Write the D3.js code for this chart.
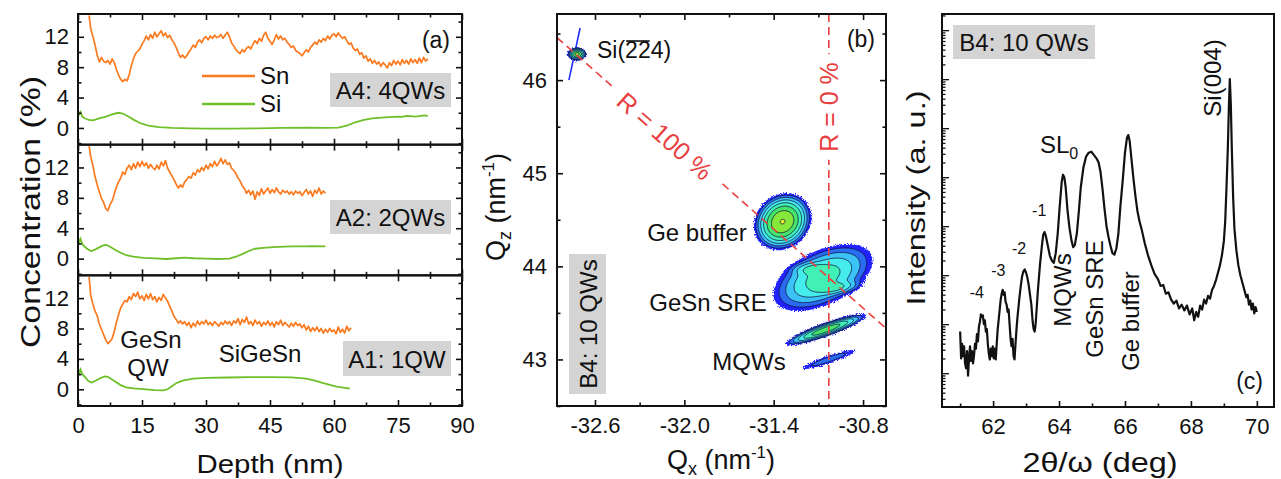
<!DOCTYPE html>
<html><head><meta charset="utf-8">
<script src="https://cdn.jsdelivr.net/npm/d3@7"></script>
<style>body{margin:0;background:#fff;} svg text{font-family:Arial,"Liberation Sans",sans-serif;fill:#111;}</style>
</head><body>
<svg id="chart" width="1281" height="479" xmlns="http://www.w3.org/2000/svg"></svg>
<script>
// ---------------- DATA ----------------
// Panel (a): concentration depth profiles, [depth nm, concentration %]
const depthTicks = [0, 15, 30, 45, 60, 75, 90];
const concTicks = [0, 4, 8, 12];
const sampleNames = ["A4: 4QWs", "A2: 2QWs", "A1: 1QW"];

const snA4 = [[2.6,14.8],[3.0,13.0],[3.5,12.0],[4.0,10.9],[4.5,9.6],[5.0,8.7],[5.5,9.3],[6.0,8.8],[6.5,8.6],[7.0,8.9],[7.5,8.4],[8.0,9.1],[8.5,8.6],[9.0,7.7],[9.5,7.0],[10.0,6.4],[10.5,6.1],[11.0,6.4],[11.5,6.2],[12.0,7.0],[12.5,8.2],[13.0,9.1],[13.5,9.8],[14.0,10.1],[14.5,10.4],[15.0,11.0],[15.5,11.5],[16.0,12.1],[16.5,11.6],[17.0,12.3],[17.5,11.8],[18.0,12.6],[18.5,12.0],[19.0,12.4],[19.5,12.8],[20.0,12.1],[20.5,12.5],[21.0,11.9],[21.5,12.2],[22.0,11.6],[22.5,11.2],[23.0,10.6],[23.5,9.9],[24.0,9.3],[24.5,9.6],[25.0,9.2],[25.5,9.5],[26.0,10.0],[26.5,10.4],[27.0,10.9],[27.5,10.6],[28.0,11.3],[28.5,11.6],[29.0,11.2],[29.5,11.8],[30.0,12.0],[30.5,11.6],[31.0,12.1],[31.5,11.8],[32.0,12.2],[32.5,11.9],[33.0,12.0],[33.5,12.3],[34.0,11.8],[34.5,12.2],[35.0,12.6],[35.5,12.0],[36.0,11.2],[36.5,10.8],[37.0,10.3],[37.5,10.0],[38.0,9.8],[38.5,10.3],[39.0,10.0],[39.5,10.5],[40.0,10.7],[40.5,10.4],[41.0,11.0],[41.5,11.5],[42.0,11.1],[42.5,11.8],[43.0,11.4],[43.5,12.2],[44.0,12.6],[44.5,11.8],[45.0,11.4],[45.5,11.0],[46.0,11.6],[46.5,12.3],[47.0,11.7],[47.5,12.1],[48.0,11.6],[48.5,11.8],[49.0,11.3],[49.5,11.0],[50.0,10.6],[50.5,10.8],[51.0,10.2],[51.5,10.0],[52.0,9.8],[52.5,9.5],[53.0,9.9],[53.5,10.3],[54.0,10.0],[54.5,10.6],[55.0,10.9],[55.5,11.3],[56.0,11.0],[56.5,11.6],[57.0,11.3],[57.5,11.8],[58.0,11.5],[58.5,12.1],[59.0,11.7],[59.5,12.2],[60.0,12.4],[60.5,12.0],[61.0,12.5],[61.5,12.1],[62.0,11.8],[62.5,12.0],[63.0,11.5],[63.5,11.0],[64.0,11.2],[64.5,10.5],[65.0,10.2],[65.5,10.4],[66.0,9.7],[66.5,9.9],[67.0,9.2],[67.5,9.5],[68.0,8.8],[68.5,9.1],[69.0,8.5],[69.5,8.9],[70.0,8.4],[70.5,8.7],[71.0,8.1],[71.5,8.6],[72.0,8.3],[72.5,7.9],[73.0,8.6],[73.5,8.2],[74.0,8.9],[74.5,8.4],[75.0,8.8],[75.5,8.3],[76.0,9.0],[76.5,8.5],[77.0,8.9],[77.5,8.4],[78.0,9.1],[78.5,8.6],[79.0,9.0],[79.5,8.5],[80.0,9.2],[80.5,8.6],[81.0,9.3],[81.5,8.8],[82.0,9.1]];
const siA4 = [[0,2.3],[0.3,1.8],[0.6,2.1],[1.0,1.5],[1.5,1.3],[2.5,1.05],[3.5,1.0],[5,1.25],[6.5,1.5],[8,1.8],[9.4,2.0],[10.5,1.9],[11.5,1.6],[13,1.1],[14.5,0.65],[16.5,0.3],[19,0.12],[22,0.02],[26,-0.05],[30,-0.1],[36,-0.1],[42,-0.05],[48,0],[54,0.05],[58,0],[61,0.05],[63,0.3],[65,0.75],[67,1.05],[69,1.25],[72,1.4],[75,1.5],[76,1.45],[77,1.6],[78,1.55],[79,1.5],[80,1.55],[81,1.65],[82,1.6]];

const snA2 = [[2.6,14.8],[3.0,13.4],[3.5,12.2],[4.0,10.8],[4.5,9.7],[5.0,8.8],[5.5,7.9],[6.0,7.4],[6.5,6.6],[7.0,6.3],[7.5,7.1],[8.0,7.6],[8.5,8.5],[9.0,9.4],[9.5,10.1],[10.0,10.6],[10.5,11.4],[11.0,11.1],[11.5,11.9],[12.0,12.3],[12.5,11.7],[13.0,12.5],[13.5,11.9],[14.0,12.7],[14.5,12.1],[15.0,12.8],[15.5,12.2],[16.0,12.6],[16.5,11.9],[17.0,12.4],[17.5,12.0],[18.0,11.7],[18.5,12.3],[19.0,11.8],[19.5,12.7],[20.0,12.2],[20.5,12.9],[21.0,11.9],[21.5,11.4],[22.0,10.9],[22.5,10.4],[23.0,9.8],[23.5,9.3],[24.0,9.7],[24.5,9.4],[25.0,10.1],[25.5,10.4],[26.0,10.8],[26.5,10.6],[27.0,11.3],[27.5,11.0],[28.0,11.7],[28.5,11.4],[29.0,12.0],[29.5,11.6],[30.0,12.3],[30.5,11.8],[31.0,12.5],[31.5,12.1],[32.0,12.8],[32.5,12.2],[33.0,12.6],[33.5,13.2],[34.0,12.5],[34.5,13.0],[35.0,12.4],[35.5,12.6],[36.0,11.9],[36.5,11.6],[37.0,11.2],[37.5,10.6],[38.0,10.2],[38.5,9.6],[39.0,9.2],[39.5,8.6],[40.0,9.0],[40.5,8.4],[41.0,8.9],[41.5,7.8],[42.0,8.8],[42.5,8.3],[43.0,9.2],[43.5,8.5],[44.0,8.9],[44.5,9.3],[45.0,8.6],[45.5,9.1],[46.0,8.7],[46.5,9.3],[47.0,8.8],[47.5,8.5],[48.0,9.0],[48.5,8.7],[49.0,8.9],[49.5,8.5],[50.0,8.8],[50.5,8.4],[51.0,8.9],[51.5,8.6],[52.0,8.8],[52.5,8.3],[53.0,8.7],[53.5,9.1],[54.0,8.5],[54.5,8.9],[55.0,8.2],[55.5,9.0],[56.0,8.6],[56.5,9.3],[57.0,8.5],[57.5,8.9],[58.0,8.6]];
const siA2 = [[0,2.8],[0.3,2.2],[0.6,2.6],[1.0,1.9],[1.5,1.6],[2.5,1.15],[3.2,1.0],[4.2,1.25],[5.2,1.55],[6.2,1.8],[6.9,1.75],[8,1.4],[9.5,0.9],[11.3,0.45],[13,0.25],[15.3,0.1],[18,0.02],[20.8,-0.05],[23,0.05],[25,0.12],[27,0.05],[30,0],[33,-0.05],[35.5,0],[37,0.25],[38.5,0.6],[40,1.0],[41.5,1.3],[44,1.45],[47,1.55],[50,1.6],[53,1.6],[55,1.65],[58,1.6]];

const snA1 = [[2.6,14.8],[3.0,12.3],[3.5,11.2],[4.0,10.3],[4.5,9.7],[5.0,8.6],[5.5,7.9],[6.0,7.2],[6.5,6.5],[7.0,6.0],[7.5,6.3],[8.0,6.7],[8.5,7.6],[9.0,8.8],[9.5,9.8],[10.0,10.7],[10.5,11.2],[11.0,11.7],[11.5,11.5],[12.0,12.2],[12.5,11.8],[13.0,12.6],[13.5,12.2],[14.0,12.8],[14.5,11.9],[15.0,12.3],[15.5,11.7],[16.0,12.5],[16.5,11.9],[17.0,12.6],[17.5,11.8],[18.0,12.2],[18.5,11.5],[19.0,12.1],[19.5,11.7],[20.0,12.5],[20.5,12.0],[21.0,11.6],[21.5,10.9],[22.0,10.3],[22.5,9.6],[23.0,9.2],[23.5,8.7],[24.0,9.0],[24.5,8.6],[25.0,8.9],[25.5,8.4],[26.0,8.8],[26.5,8.1],[27.0,8.7],[27.5,8.3],[28.0,9.0],[28.5,8.5],[29.0,8.9],[29.5,8.6],[30.0,9.1],[30.5,8.5],[31.0,8.8],[31.5,8.4],[32.0,8.9],[32.5,8.6],[33.0,8.3],[33.5,8.8],[34.0,8.5],[34.5,9.0],[35.0,8.6],[35.5,8.9],[36.0,8.4],[36.5,9.0],[37.0,8.7],[37.5,9.3],[38.0,8.5],[38.5,9.2],[39.0,8.8],[39.5,9.5],[40.0,8.6],[40.5,8.9],[41.0,8.4],[41.5,9.1],[42.0,8.6],[42.5,8.9],[43.0,8.3],[43.5,8.8],[44.0,8.5],[44.5,9.0],[45.0,8.4],[45.5,8.8],[46.0,8.2],[46.5,8.9],[47.0,8.5],[47.5,9.1],[48.0,8.4],[48.5,8.8],[49.0,8.5],[49.5,8.2],[50.0,8.7],[50.5,8.3],[51.0,8.8],[51.5,8.4],[52.0,8.6],[52.5,8.1],[53.0,8.5],[53.5,7.8],[54.0,8.3],[54.5,7.6],[55.0,8.1],[55.5,7.7],[56.0,8.2],[56.5,7.6],[57.0,8.0],[57.5,7.4],[58.0,7.9],[58.5,7.5],[59.0,8.0],[59.5,7.6],[60.0,7.8],[60.5,7.3],[61.0,8.2],[61.5,7.5],[62.0,7.9],[62.5,7.4],[63.0,8.3],[63.5,7.7],[64.0,8.1]];
const siA1 = [[0,2.8],[0.3,2.1],[0.6,2.6],[1.0,2.0],[1.5,1.7],[2.5,1.05],[3.2,0.9],[4.2,1.15],[5.2,1.45],[6.2,1.7],[7.0,1.65],[8.6,1.05],[10,0.55],[11.3,0.26],[13,0.12],[15.3,0.02],[18,-0.1],[20,-0.15],[21,0.0],[22,0.4],[23,0.8],[24.5,1.15],[27,1.4],[30,1.5],[35,1.55],[40,1.6],[45,1.6],[50,1.58],[53.5,1.4],[55.5,1.15],[57.5,0.8],[60.6,0.35],[63.7,0.1]];

// Panel (b): reciprocal space map peaks (Qx, Qz in nm^-1)
const qxTicks = [-32.6, -32.0, -31.4, -30.8];
const qzTicks = [43, 44, 45, 46];
const rsmPeaks = [
  {name:"Si(-2-24)",   qx:-32.72, qz:46.28, sx:0.020, sz:0.022, rho:0.00, amp:150},
  {name:"Ge buffer",   qx:-31.34, qz:44.48, sx:0.058, sz:0.092, rho:0.15, amp:260},
  {name:"GeSn SRE",    qx:-31.07, qz:43.88, sx:0.125, sz:0.135, rho:0.50, amp:35},
  {name:"GeSn SRE a",  qx:-31.14, qz:43.97, sx:0.060, sz:0.035, rho:0.20, amp:24},
  {name:"GeSn SRE b",  qx:-31.00, qz:43.77, sx:0.070, sz:0.035, rho:0.40, amp:28},
  {name:"MQW SL0",     qx:-31.05, qz:43.32, sx:0.090, sz:0.056, rho:0.89, amp:90},
  {name:"MQW SL-1",    qx:-31.03, qz:43.00, sx:0.105, sz:0.062, rho:0.92, amp:4}
];
const rsmLevels = [1, 2.2, 4.8, 10.6, 23, 51, 113, 250];
const rsmColors = ["#2020ff", "#2a6cf0", "#3cc3f5", "#46ecec", "#40f0b4", "#46e46a", "#86e83a", "#e8ef2a"];
const siStreak = [[-32.70, 46.56], [-32.775, 46.0]];
const relaxedSlope = -1.414;      // R = 100 % line: Qz = slope * Qx
const strainedQx = -31.03;        // R = 0 % line

// Panel (c): XRD 2θ/ω scan, [2θ deg, log10 intensity]
const twoThetaTicks = [62, 64, 66, 68, 70];
const xrdScan = [[61.0,0.85],[61.03,0.3],[61.06,0.6],[61.09,0.35],[61.12,0.55],[61.15,0.2],[61.18,0.1],[61.21,0.45],[61.24,-0.05],[61.27,0.3],[61.3,0.55],[61.33,0.25],[61.36,0.45],[61.39,0.2],[61.42,0.35],[61.45,0.6],[61.48,0.5],[61.51,0.8],[61.54,0.65],[61.57,0.95],[61.6,1.05],[61.63,1.2],[61.66,1.15],[61.69,1.18],[61.72,1.0],[61.75,1.08],[61.78,0.85],[61.81,0.9],[61.84,0.6],[61.87,0.4],[61.9,0.28],[61.93,0.5],[61.96,0.35],[61.99,0.55],[62.02,0.3],[62.05,0.5],[62.08,0.28],[62.11,0.6],[62.14,0.9],[62.17,1.1],[62.2,1.3],[62.23,1.5],[62.26,1.62],[62.29,1.7],[62.32,1.6],[62.35,1.65],[62.38,1.45],[62.41,1.4],[62.44,1.25],[62.47,1.3],[62.5,1.0],[62.53,0.7],[62.56,0.55],[62.59,0.7],[62.62,0.35],[62.65,0.28],[62.68,0.6],[62.71,0.9],[62.74,1.15],[62.77,1.35],[62.8,1.55],[62.84,1.78],[62.88,1.98],[62.92,2.08],[62.96,2.12],[63.0,2.05],[63.04,1.95],[63.08,1.8],[63.12,1.6],[63.16,1.4],[63.2,1.05],[63.23,0.9],[63.26,0.85],[63.29,1.0],[63.32,1.3],[63.36,1.7],[63.42,2.2],[63.48,2.6],[63.52,2.82],[63.56,2.88],[63.6,2.8],[63.66,2.6],[63.72,2.4],[63.78,2.3],[63.84,2.25],[63.9,2.45],[63.96,2.85],[64.02,3.4],[64.08,3.9],[64.12,4.05],[64.16,4.0],[64.2,3.8],[64.26,3.3],[64.32,2.95],[64.38,2.7],[64.43,2.57],[64.48,2.62],[64.54,2.85],[64.6,3.3],[64.66,3.8],[64.74,4.2],[64.82,4.42],[64.9,4.5],[64.98,4.52],[65.06,4.45],[65.14,4.38],[65.2,4.3],[65.26,4.1],[65.32,3.75],[65.38,3.35],[65.44,3.0],[65.5,2.78],[65.56,2.6],[65.62,2.45],[65.68,2.42],[65.74,2.55],[65.8,2.85],[65.86,3.4],[65.94,4.0],[66.0,4.5],[66.06,4.8],[66.1,4.86],[66.14,4.75],[66.2,4.35],[66.26,3.95],[66.32,3.6],[66.38,3.3],[66.44,3.1],[66.5,2.95],[66.6,2.65],[66.7,2.4],[66.8,2.2],[66.9,2.02],[67.0,1.92],[67.08,1.78],[67.16,1.8],[67.24,1.62],[67.32,1.65],[67.4,1.5],[67.48,1.42],[67.56,1.48],[67.64,1.32],[67.72,1.4],[67.8,1.28],[67.88,1.38],[67.96,1.2],[68.04,1.32],[68.1,1.08],[68.16,1.25],[68.22,1.15],[68.28,1.38],[68.34,1.3],[68.4,1.5],[68.46,1.42],[68.52,1.58],[68.58,1.52],[68.64,1.7],[68.7,1.78],[68.76,1.9],[68.82,2.05],[68.88,2.2],[68.94,2.4],[69.0,2.7],[69.04,3.1],[69.08,3.8],[69.12,4.6],[69.15,5.4],[69.18,6.0],[69.21,5.5],[69.24,4.6],[69.28,3.6],[69.32,2.95],[69.38,2.5],[69.44,2.2],[69.5,2.0],[69.56,1.85],[69.62,1.7],[69.68,1.55],[69.72,1.6],[69.76,1.4],[69.8,1.48],[69.84,1.3],[69.88,1.42],[69.92,1.22],[69.96,1.35],[70.0,1.25]];
const satelliteLabels = [{t:"-4", x:61.66, y:1.2}, {t:"-3", x:62.31, y:1.66}, {t:"-2", x:62.94, y:2.11}, {t:"-1", x:63.55, y:2.88}];

// ---------------- DRAWING ----------------
const SN_COLOR = "#fb7a1f", SI_COLOR = "#6fbf2a", RED = "#e8403f", BOX = "#d4d4d4";
const svg = d3.select("#chart");
const defs = svg.append("defs");
const filt = defs.append("filter").attr("id","rough").attr("x","-20%").attr("y","-20%").attr("width","140%").attr("height","140%");
filt.append("feTurbulence").attr("type","fractalNoise").attr("baseFrequency",0.9).attr("numOctaves",2).attr("seed",3).attr("result","n");
filt.append("feDisplacementMap").attr("in","SourceGraphic").attr("in2","n").attr("scale",5).attr("xChannelSelector","R").attr("yChannelSelector","G");

function txt(g, x, y, s, size, anchor){
  return g.append("text").attr("x",x).attr("y",y).attr("font-size",size).attr("text-anchor",anchor||"start").text(s);
}
function cleanAxis(sel, labelSize){
  sel.select(".domain").remove();
  sel.selectAll(".tick line").attr("stroke","#111").attr("stroke-width",1.6);
  sel.selectAll(".tick text").attr("font-size",labelSize||22).attr("fill","#111")
     .attr("font-family",'Arial,"Liberation Sans",sans-serif');
}
function addAxis(g, gen, tx, ty, labelSize){
  const a = g.append("g").attr("transform",`translate(${tx},${ty})`).call(gen);
  cleanAxis(a, labelSize);
  return a;
}
function frame(g, x0, y0, x1, y1){
  g.append("rect").attr("x",x0).attr("y",y0).attr("width",x1-x0).attr("height",y1-y0)
   .attr("fill","none").attr("stroke","#111").attr("stroke-width",2);
}

// ===== Panel (a) =====
const aLeft=78, aRight=462, aTop=14, aBottom=406;
const subH = (aBottom-aTop)/3;
const xA = d3.scaleLinear().domain([0,90]).range([aLeft,aRight]);
const samples = [{sn:snA4, si:siA4}, {sn:snA2, si:siA2}, {sn:snA1, si:siA1}];
const gA = svg.append("g");
const minorDepth = d3.range(0, 91, 7.5);
const minorConc = [-2, 2, 6, 10, 14];
samples.forEach((s,i)=>{
  const top = aTop + i*subH, bottom = top + subH;
  const y = d3.scaleLinear().domain([-2.2, 15]).range([bottom, top]);
  const cid = "clipA"+i;
  defs.append("clipPath").attr("id",cid).append("rect").attr("x",aLeft).attr("y",top).attr("width",aRight-aLeft).attr("height",subH);
  const line = d3.line().x(d=>xA(d[0])).y(d=>y(d[1]));
  const gp = gA.append("g").attr("clip-path",`url(#${cid})`);
  gp.append("path").datum(s.si).attr("d",line).attr("fill","none").attr("stroke",SI_COLOR).attr("stroke-width",1.8);
  gp.append("path").datum(s.sn).attr("d",line).attr("fill","none").attr("stroke",SN_COLOR).attr("stroke-width",1.7).attr("stroke-linejoin","round");
  addAxis(gA, d3.axisLeft(y).tickValues(concTicks).tickSize(-6).tickPadding(9).tickFormat(d3.format("d")), aLeft, 0);
  addAxis(gA, d3.axisLeft(y).tickValues(minorConc).tickSize(-3.5).tickFormat(""), aLeft, 0);
  addAxis(gA, d3.axisRight(y).tickValues(concTicks).tickSize(-6).tickFormat(""), aRight, 0);
  addAxis(gA, d3.axisRight(y).tickValues(minorConc).tickSize(-3.5).tickFormat(""), aRight, 0);
  const bottomAx = d3.axisBottom(xA).tickValues(depthTicks).tickSize(-6).tickPadding(11).tickFormat(i===2 ? d3.format("d") : "");
  addAxis(gA, bottomAx, 0, bottom);
  addAxis(gA, d3.axisBottom(xA).tickValues(minorDepth.filter(v=>v%15)).tickSize(-3.5).tickFormat(""), 0, bottom);
  addAxis(gA, d3.axisTop(xA).tickValues(depthTicks).tickSize(-6).tickFormat(""), 0, top);
  addAxis(gA, d3.axisTop(xA).tickValues(minorDepth.filter(v=>v%15)).tickSize(-3.5).tickFormat(""), 0, top);
  frame(gA, aLeft, top, aRight, bottom);
});
const aBoxes = [[330,73,121,34],[330,200,121,34],[343,341,108,35]];
aBoxes.forEach((b,i)=>{
  gA.append("rect").attr("x",b[0]).attr("y",b[1]).attr("width",b[2]).attr("height",b[3]).attr("fill",BOX);
  txt(gA, b[0]+b[2]/2, b[1]+b[3]-8, sampleNames[i], 24, "middle");
});
txt(gA, 450, 48, "(a)", 23, "end");
gA.append("line").attr("x1",202).attr("x2",255).attr("y1",76).attr("y2",76).attr("stroke",SN_COLOR).attr("stroke-width",2.5);
gA.append("line").attr("x1",202).attr("x2",255).attr("y1",104).attr("y2",104).attr("stroke",SI_COLOR).attr("stroke-width",2.5);
txt(gA, 260, 84, "Sn", 24);
txt(gA, 260, 112, "Si", 24);
txt(gA, 151, 348, "GeSn", 24, "middle");
txt(gA, 148, 376, "QW", 24, "middle");
txt(gA, 260, 362, "SiGeSn", 24, "middle");
svg.append("text").attr("transform","translate(40,212) rotate(-90)").attr("text-anchor","middle")
   .attr("font-size",27).attr("textLength",272).attr("lengthAdjust","spacingAndGlyphs").text("Concentration (%)");
svg.append("text").attr("x",270).attr("y",473).attr("text-anchor","middle").attr("font-size",26)
   .attr("textLength",147).attr("lengthAdjust","spacingAndGlyphs").text("Depth (nm)");

// ===== Panel (b) =====
const bLeft=557, bRight=886, bTop=14, bBottom=406;
const xB = d3.scaleLinear().domain([-32.855, -30.646]).range([bLeft,bRight]);
const yB = d3.scaleLinear().domain([42.5, 46.71]).range([bBottom,bTop]);
const gB = svg.append("g");
defs.append("clipPath").attr("id","clipB").append("rect").attr("x",bLeft).attr("y",bTop).attr("width",bRight-bLeft).attr("height",bBottom-bTop);
const gBc = gB.append("g").attr("clip-path","url(#clipB)");
gBc.append("line").attr("x1",xB(siStreak[0][0])).attr("y1",yB(siStreak[0][1])).attr("x2",xB(siStreak[1][0])).attr("y2",yB(siStreak[1][1]))
   .attr("stroke","#2030ff").attr("stroke-width",1.6);
const cell = 1;
const nx = Math.ceil((bRight-bLeft)/cell), ny = Math.ceil((bBottom-bTop)/cell);
const field = new Float64Array(nx*ny);
for (let j=0;j<ny;j++){
  const qz = yB.invert(bTop+(j+0.5)*cell);
  for (let i=0;i<nx;i++){
    const qx = xB.invert(bLeft+(i+0.5)*cell);
    let v = 0;
    for (const p of rsmPeaks){
      const dx=(qx-p.qx)/p.sx, dz=(qz-p.qz)/p.sz;
      const q=(dx*dx - 2*p.rho*dx*dz + dz*dz)/(1-p.rho*p.rho);
      if (q<60) v += p.amp*Math.exp(-0.5*q);
    }
    field[j*nx+i]=v;
  }
}
const cont = d3.contours().size([nx,ny]).thresholds(rsmLevels)(field);
const gpath = d3.geoPath(d3.geoIdentity().scale(cell).translate([bLeft,bTop]));
cont.forEach((c,k)=>{
  const p = gBc.append("path").attr("d",gpath(c)).attr("fill",rsmColors[k]);
  if (k===0) p.attr("filter","url(#rough)");
  else p.attr("stroke","#0c0c3a").attr("stroke-width",0.8);
});
const qxLo = xB.domain()[0], qxHi = xB.domain()[1];
gBc.append("line").attr("x1",xB(qxLo)).attr("y1",yB(relaxedSlope*qxLo)).attr("x2",xB(qxHi)).attr("y2",yB(relaxedSlope*qxHi))
   .attr("stroke",RED).attr("stroke-width",1.6).attr("stroke-dasharray","8,5");
gBc.append("line").attr("x1",xB(strainedQx)).attr("x2",xB(strainedQx)).attr("y1",bTop).attr("y2",bBottom)
   .attr("stroke",RED).attr("stroke-width",1.6).attr("stroke-dasharray","8,5");
function labelOnLine(g, cx, cy, ang, s, size, pad){
  const gg = g.append("g").attr("transform",`translate(${cx},${cy}) rotate(${ang})`);
  const r = gg.append("rect").attr("fill","#fff");
  const t = gg.append("text").attr("text-anchor","middle").attr("dominant-baseline","central")
     .attr("font-size",size).style("fill",RED).text(s);
  const bb = t.node().getBBox();
  r.attr("x",bb.x-pad).attr("y",bb.y+3).attr("width",bb.width+2*pad).attr("height",bb.height-6);
}
const angDiag = Math.atan2(yB(relaxedSlope*-31.0)-yB(relaxedSlope*-32.0), xB(-31.0)-xB(-32.0))*180/Math.PI;
labelOnLine(gB, 665, 136, angDiag, "R = 100 %", 25, 14);
labelOnLine(gB, xB(strainedQx), 107, -90, "R = 0 %", 25, 8);
addAxis(gB, d3.axisBottom(xB).tickValues(qxTicks).tickSize(-6).tickPadding(11).tickFormat(d3.format(".1f")), 0, bBottom);
addAxis(gB, d3.axisBottom(xB).tickValues([-32.3,-31.7,-31.1]).tickSize(-3.5).tickFormat(""), 0, bBottom);
addAxis(gB, d3.axisTop(xB).tickValues(qxTicks).tickSize(-6).tickFormat(""), 0, bTop);
addAxis(gB, d3.axisTop(xB).tickValues([-32.3,-31.7,-31.1]).tickSize(-3.5).tickFormat(""), 0, bTop);
addAxis(gB, d3.axisLeft(yB).tickValues(qzTicks).tickSize(-6).tickPadding(10).tickFormat(d3.format("d")), bLeft, 0);
addAxis(gB, d3.axisLeft(yB).tickValues([42.5,43.5,44.5,45.5,46.5]).tickSize(-3.5).tickFormat(""), bLeft, 0);
addAxis(gB, d3.axisRight(yB).tickValues(qzTicks).tickSize(-6).tickFormat(""), bRight, 0);
addAxis(gB, d3.axisRight(yB).tickValues([42.5,43.5,44.5,45.5,46.5]).tickSize(-3.5).tickFormat(""), bRight, 0);
gB.selectAll(".tick text").each(function(){ const t=d3.select(this); t.text(t.text().replace("−","-")); });
frame(gB, bLeft, bTop, bRight, bBottom);
txt(gB, 875, 47, "(b)", 23, "end");
const siT = txt(gB, 597, 58, "Si(224)", 23);
{
  const n = siT.node();
  const xs = n.getStartPositionOfChar(3).x, xe = n.getEndPositionOfChar(4).x;
  gB.append("line").attr("x1",xs+1).attr("x2",xe-1).attr("y1",41).attr("y2",41).attr("stroke","#111").attr("stroke-width",1.6);
}
txt(gB, 697, 241, "Ge buffer", 24, "middle");
txt(gB, 708, 311, "GeSn SRE", 24, "middle");
txt(gB, 749, 370, "MQWs", 24, "middle");
gB.append("rect").attr("x",569).attr("y",254).attr("width",37).attr("height",140).attr("fill",BOX);
gB.append("text").attr("transform","translate(588,324) rotate(-90)").attr("text-anchor","middle").attr("dominant-baseline","central")
  .attr("font-size",24).text("B4: 10 QWs");
{
  const t = svg.append("text").attr("transform","translate(505,207) rotate(-90)").attr("text-anchor","middle").attr("font-size",27);
  t.append("tspan").text("Q");
  t.append("tspan").attr("font-size",18).attr("dy",6).text("z");
  t.append("tspan").attr("dy",-6).text(" (nm");
  t.append("tspan").attr("font-size",17).attr("dy",-11).text("-1");
  t.append("tspan").attr("dy",11).text(")");
  const t2 = svg.append("text").attr("x",721).attr("y",469).attr("text-anchor","middle").attr("font-size",27);
  t2.append("tspan").text("Q");
  t2.append("tspan").attr("font-size",18).attr("dy",6).text("x");
  t2.append("tspan").attr("dy",-6).text(" (nm");
  t2.append("tspan").attr("font-size",17).attr("dy",-11).text("-1");
  t2.append("tspan").attr("dy",11).text(")");
}

// ===== Panel (c) =====
const cLeft=942, cRight=1274, cTop=14, cBottom=407;
const xC = d3.scaleLinear().domain([60.45, 70.52]).range([cLeft,cRight]);
const yC = d3.scaleLog().domain([Math.pow(10,-0.69), Math.pow(10,7.33)]).range([cBottom,cTop]);
const gC = svg.append("g");
defs.append("clipPath").attr("id","clipC").append("rect").attr("x",cLeft).attr("y",cTop).attr("width",cRight-cLeft).attr("height",cBottom-cTop);
gC.append("path").datum(xrdScan).attr("clip-path","url(#clipC)")
  .attr("d", d3.line().x(d=>xC(d[0])).y(d=>yC(Math.pow(10,d[1]))))
  .attr("fill","none").attr("stroke","#111").attr("stroke-width",2.2).attr("stroke-linejoin","round");
const decades = d3.range(0,8).map(k=>Math.pow(10,k));
const minorLog = [];
for (let k=-1;k<=7;k++) for (let m=2;m<=9;m++){ const v=m*Math.pow(10,k); if (v>yC.domain()[0] && v<yC.domain()[1]) minorLog.push(v); }
addAxis(gC, d3.axisLeft(yC).tickValues(decades).tickSize(-7).tickFormat(""), cLeft, 0);
addAxis(gC, d3.axisLeft(yC).tickValues(minorLog).tickSize(-3.5).tickFormat(""), cLeft, 0);
gC.selectAll(".tick line").attr("stroke-width",1.3);
addAxis(gC, d3.axisBottom(xC).tickValues(twoThetaTicks).tickSize(-6).tickPadding(11).tickFormat(d3.format("d")), 0, cBottom);
addAxis(gC, d3.axisBottom(xC).tickValues([61,63,65,67,69]).tickSize(-3.5).tickFormat(""), 0, cBottom);
frame(gC, cLeft, cTop, cRight, cBottom);
gC.append("rect").attr("x",953).attr("y",25).attr("width",142).attr("height",34).attr("fill",BOX);
txt(gC, 1024, 51, "B4: 10 QWs", 24, "middle");
txt(gC, 1263, 389, "(c)", 23, "end");
satelliteLabels.forEach(s=>{
  txt(gC, xC(s.x)-5, yC(Math.pow(10,s.y))-16, s.t, 16, "middle");
});
{
  const t = gC.append("text").attr("x",1040).attr("y",153).attr("font-size",24);
  t.append("tspan").text("SL");
  t.append("tspan").attr("font-size",16).attr("dy",6).text("0");
}
function vlabel(g, cx, cy, s, size){
  g.append("text").attr("transform",`translate(${cx},${cy}) rotate(-90)`).attr("text-anchor","middle")
   .attr("dominant-baseline","central").attr("font-size",size).text(s);
}
vlabel(gC, 1212, 78, "Si(004)", 24);
vlabel(gC, 1062, 290, "MQWs", 24);
vlabel(gC, 1094, 299, "GeSn SRE", 24);
vlabel(gC, 1130, 321, "Ge buffer", 24);
svg.append("text").attr("transform","translate(925,198) rotate(-90)").attr("text-anchor","middle").attr("font-size",26)
   .attr("textLength",215).attr("lengthAdjust","spacingAndGlyphs").text("Intensity (a. u.)");
svg.append("text").attr("x",1100).attr("y",472).attr("text-anchor","middle").attr("font-size",27)
   .attr("textLength",155).attr("lengthAdjust","spacingAndGlyphs").text("2θ/ω (deg)");
</script>
</body></html>
